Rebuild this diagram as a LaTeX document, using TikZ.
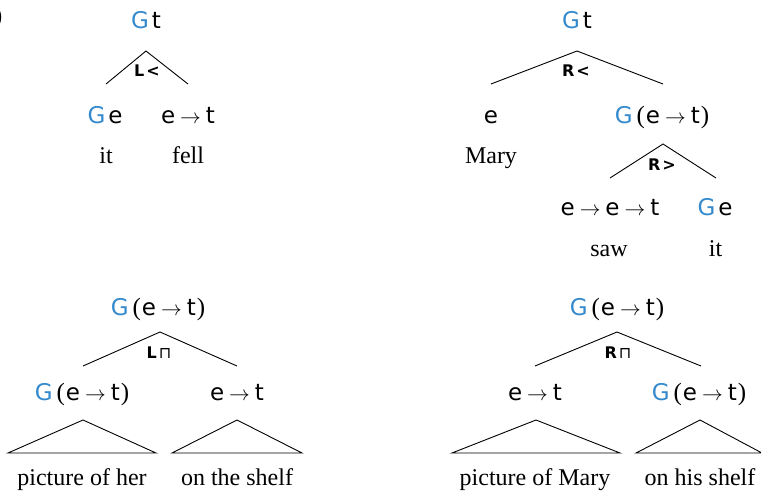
\documentclass[tikz,border=0pt]{standalone}
\usepackage{fontspec}
\setmainfont{Liberation Serif}
\newfontfamily\tyfont{DejaVu Sans}
\newfontfamily\lbfont{DejaVu Sans}
\definecolor{gblue}{RGB}{52,138,204}
\newcommand\Gq{{\color{gblue}G}}
\newcommand\arr{\hspace{5pt}{\fontsize{20}{24}\selectfont$\rightarrow$}\hspace{5pt}}
\newcommand\lpar{\hspace{4pt}{\rmfamily\fontsize{25}{28}\selectfont(}\hspace{1pt}}
\newcommand\rpar{\hspace{1pt}{\rmfamily\fontsize{25}{28}\selectfont)}}
\newcommand\Get{\Gq\lpar e\arr t\rpar}
\tikzset{
  ty/.style={anchor=base, inner sep=0pt, font=\fontsize{23}{28}\tyfont},
  wd/.style={anchor=base, inner sep=0pt, font=\fontsize{24}{28}\selectfont},
  lab/.style={anchor=center, inner sep=0pt, font=\fontsize{16}{18}\lbfont\bfseries},
  branch/.style={line width=0.9pt, line join=miter},
}
\begin{document}
\begin{tikzpicture}[x=1pt,y=-1pt]
\useasboundingbox (0,0) rectangle (761,491);
\node[wd, anchor=base east] (tag) at (2.5,23) {(a)};
% tree 1
\node[ty] (n1t) at (146,28) {\Gq\hspace{3pt}t};
\coordinate (a1) at (146,51);
\coordinate (l1) at (106,84);
\coordinate (r1) at (188,84);
\draw[branch] (l1) -- (a1) -- (r1);
\node[lab] (lb1) at (147,70.5) {L\hspace{2pt}<};
\node[ty] (n1l) at (105,123) {\Gq\hspace{3pt}e};
\node[ty] (n1r) at (188,123) {e\arr t};
\node[wd] (w1l) at (106,163) {it};
\node[wd] (w1r) at (188,163) {fell};
% tree 2
\node[ty] (n2t) at (577,28) {\Gq\hspace{3pt}t};
\coordinate (a2) at (577,51);
\coordinate (l2) at (491,84);
\coordinate (r2) at (663,84);
\draw[branch] (l2) -- (a2) -- (r2);
\node[lab] (lb2) at (576,70.5) {R\hspace{2pt}<};
\node[ty] (n2l) at (491,123) {e};
\node[ty] (n2r) at (662,123) {\Get};
\node[wd] (w2l) at (491,163) {Mary};
\coordinate (a3) at (663,144);
\coordinate (l3) at (610,178);
\coordinate (r3) at (716,178);
\draw[branch] (l3) -- (a3) -- (r3);
\node[lab] (lb3) at (662,164.5) {R\hspace{2pt}>};
\node[ty] (n3l) at (610,215) {e\arr e\arr t};
\node[ty] (n3r) at (715,215) {\Gq\hspace{3pt}e};
\node[wd] (w3l) at (609,256) {saw};
\node[wd] (w3r) at (715.5,256) {it};
% tree 3
\node[ty] (n4t) at (158,315) {\Get};
\coordinate (a4) at (160,332);
\coordinate (l4) at (83,366);
\coordinate (r4) at (237,366);
\draw[branch] (l4) -- (a4) -- (r4);
\node[lab] (lb4) at (159,353) {L\hspace{2pt}{\mdseries ⊓}};
\node[ty] (n4l) at (82,400) {\Get};
\node[ty] (n4r) at (237,400) {e\arr t};
\coordinate (t1a) at (83,420);
\coordinate (t1l) at (8,453);
\coordinate (t1r) at (156,453);
\draw[branch] (t1a) -- (t1l) -- (t1r) -- cycle;
\coordinate (t2a) at (237,420);
\coordinate (t2l) at (172,453);
\coordinate (t2r) at (302,453);
\draw[branch] (t2a) -- (t2l) -- (t2r) -- cycle;
\node[wd] (w4l) at (82,485) {picture of her};
\node[wd] (w4r) at (237,485) {on the shelf};
% tree 4
\node[ty] (n5t) at (617,315) {\Get};
\coordinate (a5) at (617,332);
\coordinate (l5) at (535,366);
\coordinate (r5) at (701,366);
\draw[branch] (l5) -- (a5) -- (r5);
\node[lab] (lb5) at (618,353) {R\hspace{2pt}{\mdseries ⊓}};
\node[ty] (n5l) at (535,400) {e\arr t};
\node[ty] (n5r) at (699,400) {\Get};
\coordinate (t3a) at (536,420);
\coordinate (t3l) at (452,453);
\coordinate (t3r) at (620,453);
\draw[branch] (t3a) -- (t3l) -- (t3r) -- cycle;
\coordinate (t4a) at (700,420);
\coordinate (t4l) at (636,453);
\coordinate (t4r) at (762,453);
\draw[branch] (t4a) -- (t4l) -- (t4r) -- cycle;
\node[wd] (w5l) at (535,485) {picture of Mary};
\node[wd] (w5r) at (700,485) {on his shelf};
\end{tikzpicture}
\end{document}
